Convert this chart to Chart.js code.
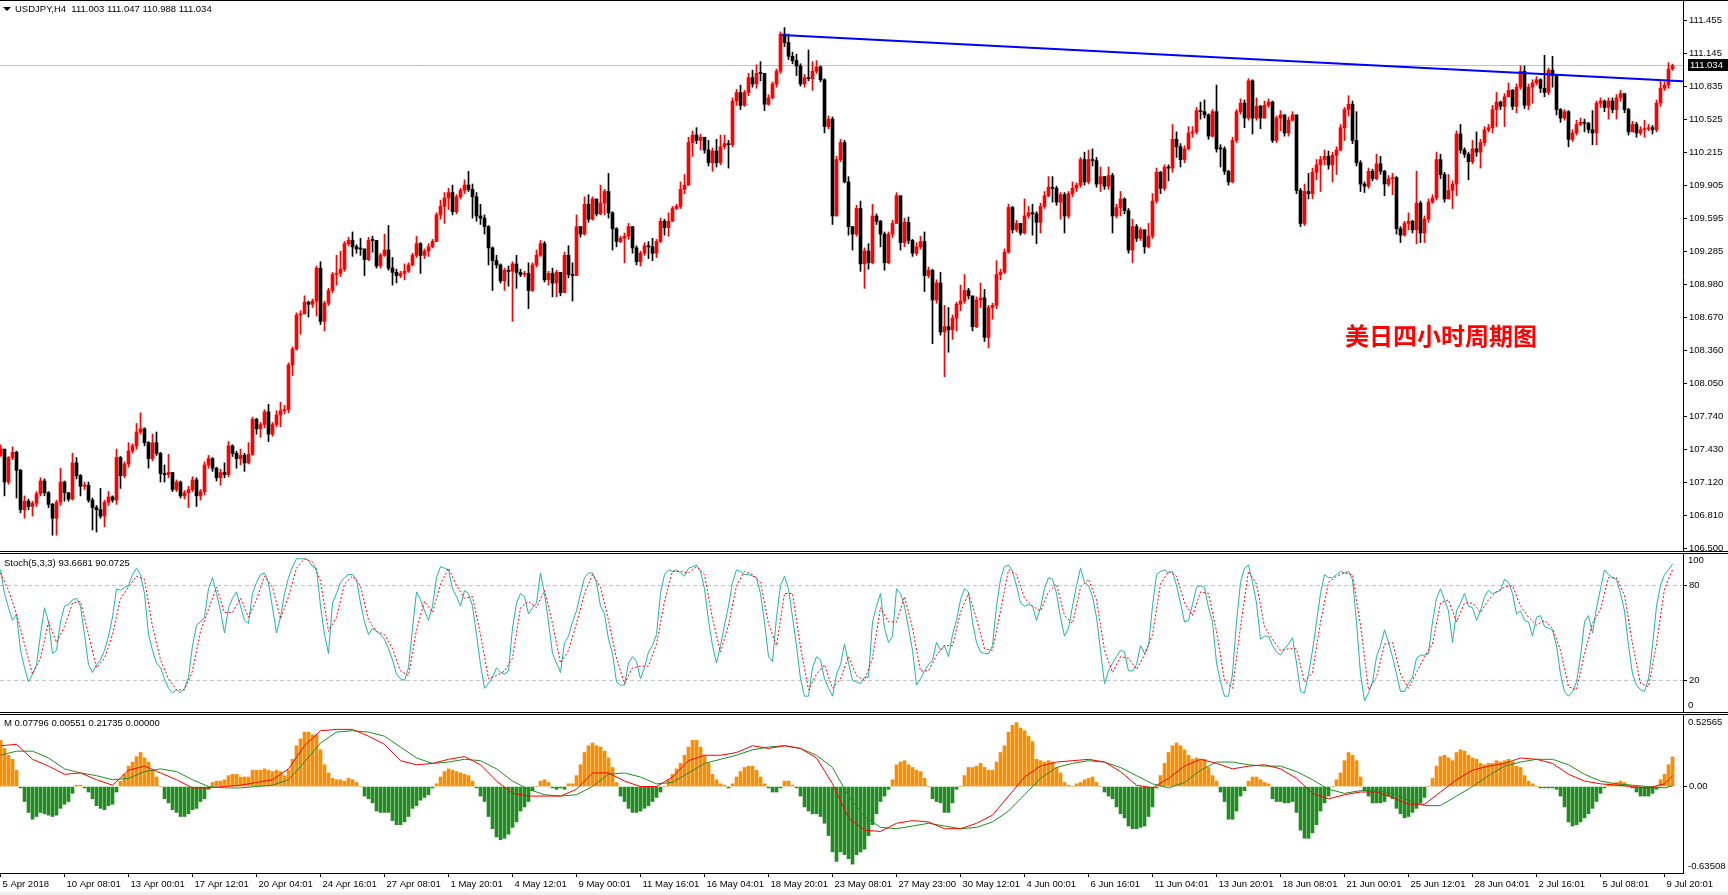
<!DOCTYPE html>
<html>
<head>
<meta charset="utf-8">
<title>USDJPY,H4</title>
<script src="https://cdn.jsdelivr.net/npm/chart.js"></script>
<style>
	html, body { margin: 0; padding: 0; background: #fff; }
	body { width: 1728px; height: 895px; position: relative; overflow: hidden; font-family: "Liberation Sans", Arial, sans-serif; }
	canvas { position: absolute; left: 0; }
	.lbl { position: absolute; font-size: 9.5px; line-height: 12px; color: #000; white-space: pre; }
	.tri { position: absolute; left: 3px; top: 7px; width: 0; height: 0; border-left: 4px solid transparent; border-right: 4px solid transparent; border-top: 4px solid #000; }
	.note { position: absolute; left: 1345px; top: 322px; font-family: "Noto Sans CJK SC", sans-serif; font-weight: bold; font-size: 24px; line-height: 26px; color: #f00; white-space: pre; }
	.strip { position: absolute; left: 0; top: 892px; width: 1728px; height: 3px; background: #f0f0f0; }
</style>
</head>
<body>
<canvas id="price" width="1728" height="556" style="top:0px"></canvas>
<canvas id="stoch" width="1728" height="170" style="top:545px"></canvas>
<canvas id="macd" width="1728" height="190" style="top:705px"></canvas>
<div class="tri"></div>
<div class="lbl" style="left:15px;top:3px">USDJPY,H4  111.003 111.047 110.988 111.034</div>
<div class="lbl" style="left:4px;top:557px">Stoch(5,3,3) 93.6681 90.0725</div>
<div class="lbl" style="left:4px;top:717px">M 0.07796 0.00551 0.21735 0.00000</div>
<div class="note">美日四小时周期图</div>
<div class="strip"></div>
<script>
// USDJPY H4 bars, one per 4 hours
var firstOpen = 107.37;
var closes = [
	107.43,107.12,107.35,107.40,107.23,106.86,106.94,106.89,106.92,107.01,
	107.13,107.02,106.91,106.78,106.93,107.12,107.02,106.96,107.30,107.18,
	107.08,107.09,106.95,106.88,106.86,106.80,106.93,106.98,106.95,107.35,
	107.18,107.29,107.41,107.46,107.59,107.62,107.49,107.34,107.49,107.39,
	107.20,107.19,107.21,107.05,107.12,106.99,107.02,107.05,107.14,106.99,
	107.03,107.28,107.34,107.25,107.16,107.21,107.19,107.46,107.39,107.34,
	107.37,107.30,107.38,107.71,107.62,107.66,107.78,107.57,107.66,107.75,
	107.79,107.80,108.22,108.37,108.69,108.70,108.81,108.79,108.82,109.13,
	108.63,108.80,108.92,109.07,109.08,109.12,109.36,109.39,109.33,109.31,
	109.31,109.21,109.39,109.39,109.15,109.25,109.30,109.13,109.09,109.06,
	109.08,109.10,109.16,109.25,109.36,109.25,109.29,109.33,109.38,109.63,
	109.71,109.79,109.84,109.66,109.80,109.86,109.91,109.87,109.80,109.62,
	109.60,109.52,109.32,109.20,109.16,109.01,109.11,109.10,109.17,109.09,
	109.07,109.08,108.92,109.16,109.25,109.36,109.02,109.08,108.99,109.09,
	108.90,109.25,109.07,109.06,109.52,109.45,109.73,109.59,109.78,109.64,
	109.74,109.85,109.65,109.50,109.38,109.41,109.43,109.52,109.32,109.19,
	109.27,109.34,109.33,109.27,109.38,109.57,109.51,109.57,109.69,109.71,
	109.87,109.91,110.31,110.38,110.33,110.36,110.24,110.12,110.23,110.12,
	110.27,110.30,110.29,110.70,110.78,110.66,110.78,110.92,110.86,110.96,
	110.96,110.67,110.73,110.86,110.98,111.33,111.25,111.12,111.08,111.03,
	110.86,110.92,110.91,110.98,111.02,110.90,110.46,110.53,109.62,110.15,
	110.31,109.94,109.52,109.45,109.69,109.17,109.29,109.18,109.62,109.57,
	109.45,109.18,109.45,109.55,109.81,109.37,109.56,109.39,109.27,109.33,
	109.38,109.06,109.11,108.83,108.99,108.53,108.58,108.55,108.66,108.79,
	108.82,108.92,108.87,108.58,108.83,108.85,108.48,108.76,108.78,109.07,
	109.09,109.28,109.70,109.49,109.55,109.46,109.62,109.65,109.64,109.56,
	109.71,109.81,109.89,109.88,109.75,109.82,109.62,109.83,109.88,109.91,
	110.15,109.94,110.15,110.14,109.92,109.99,109.90,110.00,109.62,109.70,
	109.78,109.67,109.30,109.52,109.41,109.49,109.33,109.43,109.76,110.03,
	109.88,110.08,110.07,110.34,110.27,110.15,110.25,110.40,110.41,110.61,
	110.60,110.57,110.37,110.60,110.25,110.25,110.04,109.94,110.33,110.60,
	110.68,110.54,110.89,110.54,110.65,110.54,110.66,110.69,110.33,110.54,
	110.57,110.40,110.52,110.57,109.86,109.55,109.85,109.83,110.03,110.10,
	110.15,110.18,110.10,110.19,110.24,110.45,110.62,110.67,110.33,110.12,
	109.92,109.90,110.04,109.97,110.11,110.04,109.92,109.97,109.98,109.50,
	109.44,109.55,109.57,109.49,109.74,109.46,109.59,109.75,109.79,110.15,
	110.01,109.78,109.86,109.92,110.39,110.24,110.20,110.13,110.25,110.22,
	110.31,110.43,110.45,110.62,110.69,110.65,110.74,110.80,110.65,110.83,
	110.98,110.66,110.83,110.87,110.90,110.82,110.78,110.99,110.94,110.62,
	110.54,110.60,110.34,110.40,110.48,110.50,110.49,110.43,110.40,110.68,
	110.70,110.64,110.70,110.62,110.73,110.77,110.62,110.41,110.48,110.40,
	110.43,110.44,110.45,110.43,110.68,110.82,110.85,111.00,111.034
];
var highs = [
	107.47,107.42,107.36,107.45,107.41,107.24,106.99,106.96,106.94,107.03,
	107.16,107.15,107.03,106.92,106.95,107.25,107.13,107.02,107.39,107.35,
	107.19,107.12,107.12,106.97,106.90,107.06,106.95,107.03,106.99,107.43,
	107.36,107.31,107.49,107.48,107.67,107.77,107.63,107.50,107.57,107.59,
	107.40,107.28,107.38,107.21,107.14,107.13,107.04,107.08,107.17,107.16,
	107.05,107.31,107.37,107.35,107.26,107.24,107.30,107.50,107.47,107.41,
	107.43,107.39,107.49,107.73,107.72,107.68,107.80,107.85,107.68,107.79,
	107.87,107.84,108.24,108.39,108.71,108.73,108.87,108.82,108.84,109.15,
	109.19,108.82,108.94,109.09,109.25,109.29,109.38,109.42,109.47,109.35,
	109.41,109.31,109.42,109.43,109.35,109.27,109.45,109.53,109.23,109.12,
	109.10,109.17,109.18,109.27,109.43,109.37,109.31,109.36,109.40,109.65,
	109.77,109.84,109.88,109.91,109.82,109.88,109.96,110.04,109.92,109.84,
	109.73,109.63,109.53,109.33,109.25,109.17,109.13,109.15,109.19,109.25,
	109.12,109.10,109.18,109.18,109.30,109.39,109.38,109.10,109.13,109.11,
	109.05,109.28,109.34,109.18,109.63,109.52,109.80,109.82,109.80,109.74,
	109.91,109.87,110.02,109.66,109.51,109.43,109.46,109.55,109.52,109.34,
	109.29,109.37,109.38,109.41,109.40,109.60,109.59,109.65,109.71,109.73,
	109.94,110.01,110.36,110.42,110.45,110.39,110.33,110.33,110.26,110.34,
	110.38,110.38,110.33,110.73,110.81,110.85,110.80,110.96,110.99,111.04,
	111.07,110.93,110.76,110.88,111.00,111.35,111.39,111.33,111.16,111.14,
	111.05,110.95,111.18,111.07,111.08,111.03,110.91,110.56,110.55,110.18,
	110.34,110.33,109.99,109.52,109.72,109.76,109.32,109.36,109.73,109.64,
	109.58,109.47,109.47,109.58,109.84,109.81,109.60,109.61,109.40,109.37,
	109.43,109.47,109.14,109.12,109.02,109.09,108.78,108.76,108.69,108.81,
	108.97,109.07,108.94,108.86,108.86,108.99,108.93,108.78,108.80,109.20,
	109.12,109.31,109.73,109.71,109.58,109.55,109.78,109.71,109.73,109.66,
	109.74,109.85,109.99,109.99,109.90,109.84,109.84,109.85,109.94,109.93,
	110.17,110.22,110.24,110.25,110.17,110.08,109.99,110.08,110.02,109.73,
	109.85,109.79,109.69,109.59,109.54,109.51,109.49,109.55,109.83,110.07,
	110.04,110.10,110.10,110.48,110.41,110.30,110.28,110.46,110.46,110.64,
	110.69,110.71,110.58,110.62,110.85,110.29,110.27,110.05,110.36,110.62,
	110.72,110.71,110.91,110.90,110.73,110.66,110.70,110.72,110.70,110.56,
	110.61,110.57,110.55,110.60,110.57,109.88,109.92,110.02,110.07,110.15,
	110.18,110.24,110.23,110.22,110.27,110.48,110.64,110.75,110.70,110.60,
	110.14,109.94,110.07,110.06,110.20,110.18,110.05,110.00,110.02,109.99,
	109.52,109.57,109.65,109.58,110.04,109.76,109.62,109.78,109.82,110.22,
	110.20,110.03,110.01,109.95,110.42,110.48,110.26,110.22,110.33,110.41,
	110.34,110.46,110.48,110.66,110.78,110.70,110.77,110.87,110.81,110.86,
	111.03,111.03,110.86,110.90,110.93,110.91,111.13,111.01,111.12,110.95,
	110.63,110.62,110.61,110.43,110.52,110.54,110.53,110.50,110.61,110.70,
	110.73,110.71,110.73,110.73,110.76,110.80,110.77,110.63,110.51,110.50,
	110.46,110.52,110.48,110.47,110.71,110.89,110.88,111.06,111.047
];
var lows = [
	107.36,106.99,107.10,107.33,106.97,106.83,106.78,106.86,106.80,106.89,
	106.99,106.99,106.88,106.62,106.62,106.90,106.94,106.94,106.95,107.15,
	106.99,107.05,106.93,106.67,106.65,106.78,106.70,106.90,106.93,106.91,
	107.06,107.16,107.26,107.39,107.43,107.57,107.46,107.25,107.32,107.37,
	107.12,107.12,107.16,107.03,107.03,106.97,106.96,106.88,107.03,106.89,
	106.95,107.00,107.25,107.22,107.13,107.09,107.16,107.17,107.36,107.25,
	107.28,107.22,107.29,107.37,107.57,107.54,107.63,107.50,107.55,107.64,
	107.64,107.76,107.77,108.12,108.36,108.51,108.70,108.67,108.76,108.68,
	108.60,108.54,108.78,108.90,108.97,109.05,109.10,109.34,109.24,109.27,
	109.25,109.06,109.20,109.28,109.13,109.13,109.24,109.11,108.97,108.99,
	109.04,109.02,109.09,109.15,109.23,109.08,109.22,109.24,109.32,109.38,
	109.59,109.55,109.68,109.63,109.64,109.78,109.83,109.85,109.60,109.57,
	109.54,109.45,109.16,108.92,109.13,108.99,108.92,108.96,108.63,108.94,
	109.05,109.05,108.75,108.91,109.14,109.24,109.00,108.97,108.86,108.86,
	108.87,108.90,109.04,108.82,109.06,109.42,109.44,109.56,109.58,109.62,
	109.63,109.63,109.60,109.30,109.33,109.37,109.18,109.40,109.27,109.16,
	109.15,109.25,109.22,109.20,109.23,109.37,109.44,109.43,109.57,109.68,
	109.69,109.83,109.91,110.18,110.30,110.24,110.21,110.09,110.04,110.08,
	110.10,110.25,110.07,110.27,110.66,110.62,110.65,110.75,110.83,110.82,
	110.89,110.61,110.66,110.72,110.83,110.96,111.21,111.09,111.05,110.94,
	110.84,110.83,110.89,110.80,110.96,110.88,110.40,110.44,109.54,109.62,
	110.13,109.93,109.44,109.30,109.43,109.10,108.94,109.12,109.17,109.54,
	109.33,109.11,109.17,109.42,109.55,109.30,109.33,109.36,109.24,109.25,
	109.31,108.91,109.04,108.42,108.80,108.50,108.11,108.34,108.46,108.54,
	108.73,108.80,108.84,108.54,108.57,108.76,108.44,108.38,108.65,108.75,
	109.02,109.08,109.27,109.46,109.47,109.44,109.45,109.60,109.44,109.36,
	109.46,109.69,109.80,109.75,109.72,109.59,109.46,109.60,109.80,109.85,
	109.89,109.91,109.92,110.09,109.89,109.85,109.87,109.87,109.46,109.60,
	109.62,109.64,109.27,109.18,109.38,109.39,109.27,109.32,109.41,109.74,
	109.83,109.86,109.95,110.03,110.17,110.08,110.12,110.24,110.36,110.39,
	110.53,110.54,110.34,110.36,110.22,110.08,110.01,109.91,109.93,110.31,
	110.58,110.45,110.52,110.39,110.52,110.44,110.54,110.64,110.31,110.31,
	110.42,110.37,110.37,110.51,109.83,109.52,109.53,109.78,109.78,109.96,
	109.85,110.10,110.06,109.94,110.01,110.23,110.33,110.56,110.30,110.09,
	109.85,109.84,109.88,109.95,109.96,110.01,109.81,109.90,109.82,109.45,
	109.37,109.43,109.49,109.46,109.36,109.37,109.37,109.56,109.74,109.77,
	109.97,109.75,109.78,109.69,109.81,110.21,110.17,109.96,110.11,110.18,
	110.07,110.28,110.41,110.40,110.46,110.62,110.46,110.75,110.62,110.59,
	110.81,110.63,110.62,110.68,110.85,110.78,110.74,110.76,110.83,110.57,
	110.50,110.52,110.27,110.32,110.38,110.47,110.41,110.40,110.29,110.29,
	110.64,110.60,110.53,110.59,110.53,110.70,110.59,110.38,110.41,110.36,
	110.38,110.36,110.42,110.39,110.41,110.65,110.80,110.82,110.988
];
var bidPrice = 111.034;
var trendBars = [195.3, 420.6];
var trendPrices = [111.32, 110.885];
var priceTicks = [111.455,111.145,110.835,110.525,110.215,109.905,109.595,109.285,108.980,108.670,108.360,108.050,107.740,107.430,107.120,106.810,106.500];

// Stoch(5,3,3): main per bar, signal read every 2nd bar
var stochMain = [
	90,75,66,58,62,39,28,19,24,30, 49,66,57,37,39,57,67,68,71,72,
	67,49,30,25,30,33,39,48,60,78, 77,79,80,87,91,87,75,49,39,31,
	28,21,15,12,14,12,15,22,42,55, 57,60,78,85,75,64,50,66,72,76,
	67,58,56,75,82,87,88,82,66,50, 60,75,85,92,97,97,97,96,92,91,
	67,49,37,69,75,82,85,87,87,84, 69,57,49,53,51,49,46,40,33,24,
	21,20,28,53,76,71,64,58,67,85, 92,91,90,78,73,67,77,75,67,49,
	30,15,18,22,28,25,24,26,53,69, 75,73,62,66,69,88,75,57,37,31,
	25,44,48,57,64,75,85,88,88,82, 67,62,46,37,19,17,17,31,35,32,
	21,28,38,42,49,75,87,90,89,90, 88,86,91,92,93,89,78,58,42,31,
	42,55,67,82,90,89,87,87,86,85, 75,57,35,32,60,80,86,78,60,42,
	21,10,10,28,35,33,21,15,10,24, 30,43,31,20,19,18,22,22,57,67,
	75,53,44,48,78,75,67,53,39,17, 21,26,30,33,44,39,42,35,49,58,
	71,78,76,57,44,38,37,37,42,67, 84,92,93,89,80,69,67,68,67,58,
	66,78,85,84,75,60,48,53,67,80, 91,82,80,73,60,39,18,26,31,35,
	39,38,26,26,30,42,37,42,67,87, 89,90,88,89,80,69,57,58,68,79,
	80,79,66,57,31,19,10,10,24,57, 82,91,93,82,69,46,48,48,42,38,
	36,40,43,47,31,13,12,24,39,57, 75,87,85,85,87,89,88,89,84,57,
	24,7,12,19,35,42,52,44,35,24, 13,13,18,22,34,36,36,37,57,72,
	78,71,64,44,64,69,75,67,66,58, 64,73,77,75,76,77,84,82,75,62,
	64,58,57,48,60,61,54,53,52,42, 24,13,10,13,19,35,57,61,50,66,
	78,90,87,85,84,75,64,42,24,17, 14,13,21,42,67,80,87,90,93.67
];
var stochSignal = [
	88,77,62,43,24,34,57,44,54,69, 70,49,28,34,49,72,79,86,84,54,
	33,21,14,14,26,51,65,79,63,63, 72,60,71,86,79,59,73,91,97,95,
	83,51,60,81,86,80,58,51,49,40, 26,23,52,70,63,81,91,80,72,73,
	49,21,23,26,34,66,70,66,77,56, 31,39,56,75,87,79,58,34,18,28,
	29,29,43,70,89,89,88,92,87,59, 38,55,80,89,87,82,56,42,75,75,
	41,14,24,30,15,21,35,23,20,34, 66,57,57,73,53,26,26,36,42,42,
	63,75,59,40,39,64,90,87,72,67, 64,76,81,61,56,79,84,71,39,25,
	35,34,27,36,49,81,89,86,69,61, 76,75,51,20,15,54,89,81,54,46,
	39,40,40,19,25,57,82,86,88,87, 55,14,22,43,44,24,15,25,35,43,
	69,71,57,69,69,63,71,76,79,80, 67,60,55,58,53,39,16,14,37,56,
	65,85,85,74,43,18,16,43,78,90.07
];
var stochLevels = [80, 20];

// MACD: histogram per bar, main and signal read every 4th bar (last entry = last bar)
var macdHist = [
	0.34,0.28,0.23,0.20,0.12,-0.01,-0.11,-0.19,-0.24,-0.22,
	-0.19,-0.20,-0.21,-0.22,-0.21,-0.16,-0.13,-0.11,-0.05,0.01,
	0.01,-0.01,-0.04,-0.09,-0.14,-0.16,-0.17,-0.14,-0.13,-0.04,
	0.04,0.09,0.15,0.18,0.22,0.25,0.21,0.18,0.12,0.07,
	0.00,-0.09,-0.12,-0.17,-0.19,-0.22,-0.22,-0.20,-0.17,-0.16,
	-0.11,-0.09,-0.02,0.03,0.04,0.04,0.05,0.08,0.09,0.09,
	0.07,0.07,0.07,0.12,0.12,0.12,0.13,0.12,0.11,0.12,
	0.11,0.08,0.12,0.20,0.30,0.35,0.40,0.40,0.38,0.38,
	0.27,0.16,0.10,0.06,0.05,0.05,0.04,0.06,0.05,0.03,
	0.00,-0.07,-0.09,-0.12,-0.18,-0.19,-0.19,-0.19,-0.25,-0.28,
	-0.28,-0.26,-0.22,-0.16,-0.14,-0.10,-0.08,-0.06,-0.01,0.02,
	0.07,0.11,0.13,0.12,0.11,0.10,0.09,0.08,0.04,-0.01,
	-0.07,-0.11,-0.22,-0.31,-0.37,-0.39,-0.38,-0.35,-0.30,-0.26,
	-0.18,-0.15,-0.11,-0.03,0.00,0.04,0.05,0.03,-0.01,-0.02,
	-0.01,-0.02,0.02,0.02,0.08,0.16,0.25,0.30,0.32,0.30,
	0.29,0.26,0.21,0.14,0.03,-0.07,-0.11,-0.16,-0.19,-0.19,
	-0.18,-0.16,-0.14,-0.11,-0.08,-0.04,0.00,0.05,0.09,0.13,
	0.17,0.23,0.29,0.34,0.34,0.29,0.23,0.17,0.09,0.05,
	0.02,0.01,-0.01,0.02,0.07,0.11,0.14,0.15,0.15,0.12,
	0.07,0.02,-0.01,-0.04,-0.04,-0.01,0.04,0.04,0.01,-0.01,
	-0.07,-0.15,-0.18,-0.20,-0.20,-0.22,-0.27,-0.36,-0.48,-0.55,
	-0.48,-0.50,-0.53,-0.57,-0.50,-0.48,-0.46,-0.36,-0.28,-0.20,
	-0.11,-0.07,-0.02,0.05,0.16,0.18,0.19,0.16,0.14,0.12,
	0.11,0.06,0.00,-0.09,-0.11,-0.12,-0.19,-0.19,-0.12,-0.02,
	0.00,0.08,0.14,0.14,0.15,0.17,0.14,0.12,0.12,0.18,
	0.25,0.30,0.40,0.45,0.47,0.43,0.41,0.37,0.33,0.20,
	0.19,0.18,0.19,0.18,0.14,0.10,0.03,0.01,0.00,0.02,
	0.03,0.05,0.06,0.07,0.03,0.00,-0.04,-0.07,-0.09,-0.15,
	-0.20,-0.23,-0.29,-0.31,-0.31,-0.30,-0.29,-0.22,-0.15,-0.01,
	0.08,0.17,0.25,0.30,0.32,0.30,0.27,0.23,0.20,0.21,
	0.20,0.20,0.14,0.08,0.04,-0.04,-0.11,-0.24,-0.24,-0.18,
	-0.07,-0.03,0.04,0.07,0.07,0.05,0.03,0.02,-0.09,-0.11,
	-0.11,-0.12,-0.12,-0.11,-0.19,-0.32,-0.38,-0.38,-0.34,-0.28,
	-0.18,-0.12,-0.07,0.00,0.05,0.10,0.19,0.25,0.23,0.19,
	0.07,-0.03,-0.07,-0.12,-0.12,-0.12,-0.11,-0.07,-0.09,-0.16,
	-0.20,-0.23,-0.22,-0.19,-0.16,-0.12,-0.08,0.00,0.06,0.15,
	0.22,0.23,0.21,0.19,0.25,0.27,0.26,0.23,0.21,0.20,
	0.17,0.16,0.17,0.17,0.19,0.18,0.19,0.20,0.18,0.15,
	0.14,0.08,0.04,0.02,0.00,-0.01,-0.01,-0.01,-0.01,-0.02,
	-0.07,-0.15,-0.26,-0.29,-0.28,-0.26,-0.23,-0.20,-0.16,-0.11,
	-0.05,-0.01,0.02,0.02,0.03,0.04,0.03,0.01,-0.01,-0.04,
	-0.07,-0.07,-0.07,-0.05,-0.02,0.05,0.09,0.16,0.21735
];
var macdMain = [
	0.30,0.31,0.20,0.15,0.09,0.10,0.05,0.01,0.12,0.15,
	0.10,0.05,-0.01,-0.01,0.00,0.01,0.03,0.05,0.13,0.30,
	0.41,0.42,0.42,0.37,0.31,0.19,0.16,0.17,0.20,0.22,
	0.16,0.04,-0.05,-0.07,-0.07,-0.07,-0.02,0.10,0.10,0.04,
	0.00,0.00,0.07,0.19,0.23,0.23,0.25,0.30,0.28,0.30,
	0.28,0.21,0.02,-0.23,-0.32,-0.33,-0.27,-0.25,-0.26,-0.31,
	-0.31,-0.27,-0.21,-0.07,0.07,0.15,0.18,0.19,0.20,0.18,
	0.11,0.01,-0.01,0.06,0.15,0.20,0.17,0.13,0.15,0.16,
	0.13,0.06,-0.05,-0.09,-0.06,-0.04,-0.04,-0.08,-0.13,-0.13,
	-0.04,0.05,0.12,0.15,0.17,0.21,0.20,0.17,0.09,0.04,
	0.02,0.01,0.00,-0.01,0.02,0.07796
];
var macdSignal = [
	0.23,0.26,0.26,0.21,0.13,0.10,0.08,0.05,0.06,0.11,
	0.13,0.11,0.05,0.00,-0.01,-0.01,0.00,0.01,0.05,0.18,
	0.32,0.40,0.41,0.40,0.37,0.29,0.21,0.17,0.18,0.20,
	0.19,0.13,0.04,-0.02,-0.06,-0.07,-0.06,0.00,0.09,0.10,
	0.07,0.02,0.03,0.10,0.17,0.20,0.23,0.27,0.29,0.30,
	0.28,0.23,0.14,-0.07,-0.22,-0.30,-0.31,-0.29,-0.27,-0.29,
	-0.31,-0.30,-0.26,-0.18,-0.06,0.06,0.14,0.17,0.19,0.18,
	0.14,0.08,0.02,-0.01,0.03,0.12,0.18,0.18,0.16,0.15,
	0.15,0.11,0.05,-0.02,-0.05,-0.03,-0.03,-0.05,-0.10,-0.14,
	-0.14,-0.07,0.00,0.08,0.15,0.18,0.20,0.20,0.16,0.09,
	0.04,0.02,0.01,0.00,-0.01,0.00551
];
var macdTop = 0.52565;
var macdBottom = -0.63508;

var dateLabels = ["5 Apr 2018","10 Apr 08:01","13 Apr 00:01","17 Apr 12:01","20 Apr 04:01","24 Apr 16:01",
	"27 Apr 08:01","1 May 20:01","4 May 12:01","9 May 00:01","11 May 16:01","16 May 04:01","18 May 20:01",
	"23 May 08:01","27 May 23:00","30 May 12:01","4 Jun 00:01","6 Jun 16:01","11 Jun 04:01","13 Jun 20:01",
	"18 Jun 08:01","21 Jun 00:01","25 Jun 12:01","28 Jun 04:01","2 Jul 16:01","5 Jul 08:01","9 Jul 20:01"];
var barsPerLabel = 16;

// ---------------------------------------------------------------
var nBars = closes.length;
var xMin = -0.125, xMax = 420.625;
var axisFont = {family: "'Liberation Sans', Arial, sans-serif", size: 9.5};
var axisW = 45;

Chart.defaults.animation = false;
Chart.defaults.events = [];
Chart.defaults.color = '#000';
Chart.defaults.font.family = axisFont.family;
Chart.defaults.font.size = axisFont.size;
Chart.defaults.plugins.legend.display = false;
Chart.defaults.plugins.tooltip.enabled = false;

// forex bars open at the previous close
var opens = closes.map(function(c, i){ return i === 0 ? firstOpen : closes[i - 1]; });
opens[nBars - 1] = 111.003;
var barColors = closes.map(function(c, i){ return c > opens[i] ? '#ff0000' : '#000000'; });

// panel frame lines + extra axis texts
var frame = {
	id: 'frame',
	afterDraw: function(chart, args, opts){
		var ctx = chart.ctx, a = chart.chartArea, ys = chart.scales.y;
		ctx.save();
		ctx.strokeStyle = '#000';
		ctx.lineWidth = 1;
		ctx.beginPath();
		if (opts.top) { ctx.moveTo(0, a.top - 0.5); ctx.lineTo(chart.width, a.top - 0.5); }
		if (opts.bottom) { ctx.moveTo(0, a.bottom + 0.5); ctx.lineTo(chart.width, a.bottom + 0.5); }
		ctx.stroke();
		ctx.font = axisFont.size + 'px ' + axisFont.family;
		ctx.textBaseline = 'middle';
		(opts.texts || []).forEach(function(t){
			var y = ys.getPixelForValue(t.value) + t.dy;
			ctx.fillStyle = '#000';
			ctx.fillText(t.text, a.right + 5, y);
		});
		if (opts.bid) {
			var yb = Math.round(ys.getPixelForValue(opts.bid.value));
			ctx.fillStyle = '#000';
			ctx.fillRect(a.right + 5, yb - 6, chart.width - a.right - 5, 12);
			ctx.fillStyle = '#fff';
			ctx.fillText(opts.bid.text, a.right + 7, yb + 0.5);
		}
		ctx.restore();
	}
};

// keep the plot areas exactly where the layout padding puts them
function noScalePadding(s){
	s.paddingTop = 0; s.paddingBottom = 0; s.paddingLeft = 0; s.paddingRight = 0;
}
function hiddenX(){
	return {type: 'linear', min: xMin, max: xMax, display: false, offset: false, grid: {offset: false}};
}
function rightY(min, max, ticks, fmt){
	return {
		type: 'linear', position: 'right', min: min, max: max,
		afterBuildTicks: function(s){ s.ticks = ticks.map(function(v){ return {value: v}; }); },
		afterFit: function(s){ s.width = axisW; noScalePadding(s); },
		ticks: {callback: fmt, font: axisFont, color: '#000', padding: 2, autoSkip: false},
		grid: {drawOnChartArea: false, drawTicks: true, tickLength: 4, color: '#000'},
		border: {display: true, color: '#000'}
	};
}

// ---------- price panel ----------
new Chart(document.getElementById('price'), {
	type: 'bar',
	data: {
		datasets: [
			{type: 'line', data: [{x: xMin, y: bidPrice}, {x: xMax, y: bidPrice}], borderColor: '#c0c0c0', borderWidth: 1, pointRadius: 0, order: 9},
			{data: closes.map(function(c, i){ return {x: i, y: [lows[i], highs[i]]}; }), backgroundColor: barColors, barThickness: 1, grouped: false, order: 5},
			{data: closes.map(function(c, i){ return {x: i, y: [opens[i], c]}; }), backgroundColor: barColors, barThickness: 3, minBarLength: 1, grouped: false, order: 4},
			{type: 'line', data: trendBars.map(function(b, k){ return {x: b, y: trendPrices[k]}; }), borderColor: '#0000ff', borderWidth: 2, pointRadius: 0, order: 1}
		]
	},
	options: {
		responsive: false, devicePixelRatio: 1,
		layout: {padding: {top: 1, bottom: 5, left: 0, right: 0}},
		scales: {
			x: hiddenX(),
			y: rightY(106.472, 111.640, priceTicks, function(v){ return v.toFixed(3); })
		},
		plugins: {frame: {top: true, bottom: true, bid: {value: bidPrice, text: bidPrice.toFixed(3)}}}
	},
	plugins: [frame]
});

// ---------- stochastic panel ----------
new Chart(document.getElementById('stoch'), {
	type: 'line',
	data: {
		datasets: stochLevels.map(function(l){
			return {data: [{x: xMin, y: l}, {x: xMax, y: l}], borderColor: '#c0c0c0', borderWidth: 1, borderDash: [4, 3], pointRadius: 0, order: 9};
		}).concat([
			{data: stochMain.map(function(v, i){ return {x: i, y: v}; }), borderColor: '#20b2aa', borderWidth: 1, pointRadius: 0, order: 2},
			{data: stochSignal.map(function(v, j){ return {x: j * 2, y: v}; }), borderColor: '#ff0000', borderWidth: 1, borderDash: [2, 2], pointRadius: 0, order: 1}
		])
	},
	options: {
		responsive: false, devicePixelRatio: 1,
		layout: {padding: {top: 9, bottom: 3, left: 0, right: 0}},
		scales: {
			x: hiddenX(),
			y: rightY(0, 100, stochLevels, function(v){ return String(v); })
		},
		plugins: {frame: {top: true, bottom: true, texts: [{value: 100, dy: 6, text: '100'}, {value: 0, dy: -7, text: '0'}]}}
	},
	plugins: [frame]
});

// ---------- MACD panel ----------
var xAxis = {
	type: 'linear', min: xMin, max: xMax, position: 'bottom', offset: false,
	afterBuildTicks: function(s){ s.ticks = dateLabels.map(function(d, k){ return {value: k * barsPerLabel}; }); },
	afterFit: function(s){ s.height = 22; noScalePadding(s); },
	ticks: {
		callback: function(v){ return dateLabels[Math.round(v / barsPerLabel)]; },
		align: 'start', labelOffset: 2, maxRotation: 0, autoSkip: false, font: axisFont, color: '#000', padding: 2
	},
	grid: {offset: false, drawOnChartArea: false, drawTicks: true, tickLength: 4, color: '#000'},
	border: {display: true, color: '#000'}
};
new Chart(document.getElementById('macd'), {
	type: 'bar',
	data: {
		datasets: [
			{data: macdHist.map(function(v, i){ return {x: i, y: v}; }), backgroundColor: macdHist.map(function(v){ return v >= 0 ? '#ff8c00' : '#228b22'; }), barThickness: 3, grouped: false, order: 5},
			{type: 'line', data: macdSignal.map(function(v, j){ return {x: Math.min(j * 4, nBars - 1), y: v}; }), borderColor: '#228b22', borderWidth: 1, pointRadius: 0, order: 2},
			{type: 'line', data: macdMain.map(function(v, j){ return {x: Math.min(j * 4, nBars - 1), y: v}; }), borderColor: '#ff0000', borderWidth: 1, pointRadius: 0, order: 1}
		]
	},
	options: {
		responsive: false, devicePixelRatio: 1,
		layout: {padding: {top: 10, bottom: 0, left: 0, right: 0}},
		scales: {
			x: xAxis,
			y: rightY(macdBottom, macdTop, [0], function(v){ return v.toFixed(2); })
		},
		plugins: {frame: {top: true, bottom: false, texts: [{value: macdTop, dy: 7, text: macdTop.toFixed(5)}, {value: macdBottom, dy: -7, text: macdBottom.toFixed(5)}]}}
	},
	plugins: [frame]
});
</script>
</body>
</html>
